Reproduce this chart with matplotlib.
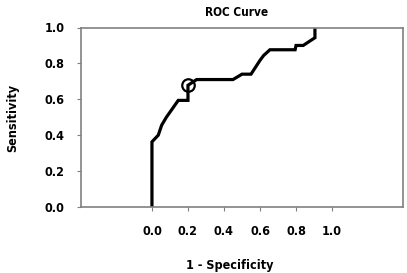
import matplotlib
matplotlib.use("Agg")
import matplotlib.pyplot as plt

# ROC curve points
fpr = [0.0, 0.0, 0.035, 0.054, 0.08, 0.146, 0.20, 0.20, 0.248, 0.45, 0.50, 0.55,
       0.60, 0.62, 0.655, 0.795, 0.80, 0.84, 0.87, 0.905, 0.905]
tpr = [0.0, 0.363, 0.40, 0.456, 0.50, 0.594, 0.594, 0.678, 0.71, 0.71, 0.74, 0.74,
       0.817, 0.844, 0.876, 0.876, 0.90, 0.90, 0.92, 0.943, 1.0]
cut_x, cut_y = 0.20, 0.68

x_ticks = [0.0, 0.2, 0.4, 0.6, 0.8, 1.0]
y_ticks = [0.0, 0.2, 0.4, 0.6, 0.8, 1.0]

plt.rcParams['font.family'] = ['DejaVu Sans']
plt.rcParams['font.stretch'] = 'condensed'
plt.rcParams['font.weight'] = 'bold'

W, H = 407, 273
fig = plt.figure(figsize=(W / 100, H / 100), dpi=100)
ax = fig.add_axes([81 / W, 1 - 207 / H, (403 - 81) / W, (207 - 27.5) / H])

ax.plot(fpr, tpr, color='black', lw=2.3, solid_joinstyle='miter')
ax.plot([cut_x], [cut_y], marker='o', ms=9, mfc='none', mec='black', mew=1.6)

ax.set_xlim(-0.394, 1.394)
ax.set_ylim(0, 1)
ax.set_xticks(x_ticks)
ax.set_yticks(y_ticks)
ax.set_xticklabels(["%.1f" % v for v in x_ticks], fontsize=9, fontweight='bold')
ax.set_yticklabels(["%.1f" % v for v in y_ticks], fontsize=9, fontweight='bold')
ax.tick_params(axis='x', length=3, color='#808080', pad=10)
ax.tick_params(axis='y', length=3, color='#808080', pad=9)
for s in ax.spines.values():
    s.set_color('#808080')
    s.set_linewidth(1.2)

fig.text(237 / W, 1 - 12 / H, "ROC Curve", fontsize=8.5, fontweight='bold',
         ha='center', va='center')
fig.text(230 / W, 1 - 265 / H, "1 - Specificity", fontsize=9, fontweight='bold',
         ha='center', va='center')
fig.text(13 / W, 1 - 118 / H, "Sensitivity", fontsize=9, fontweight='bold',
         ha='center', va='center', rotation=90)

fig.savefig("out.png", dpi=100)
